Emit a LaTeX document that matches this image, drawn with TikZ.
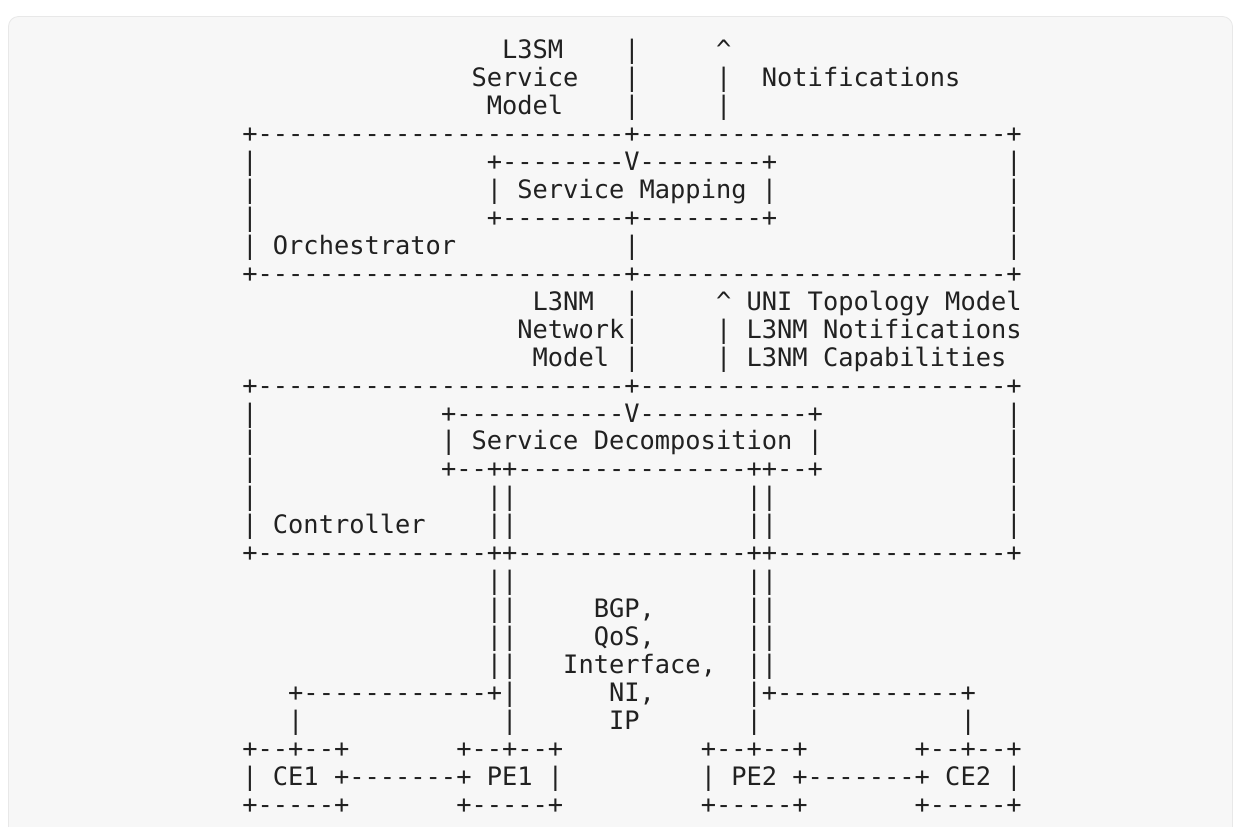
\documentclass[tikz,border=0pt]{standalone}
\usepackage{fontspec}
\setmonofont{DejaVu Sans Mono}
\newcommand\tx[4]{\node[txt] (#1) at ({242.36+15.28*#2},{30.97+27.93*#3}) {#4};}
\begin{document}
\begin{tikzpicture}[x=0.5pt,y=-0.5pt,
  txt/.style={anchor=base west,inner sep=0pt,outer sep=0pt,text=black!87,
    font=\ttfamily\fontsize{12.69pt}{14pt}\selectfont}]
\useasboundingbox (0,0) rectangle (1241,826);
\begin{scope}
\clip (0,0) rectangle (1241,826);
\fill[white] (0,0) rectangle (1241,826);
\draw[draw=black!9,fill=black!3,rounded corners=5] (8.5,16.5) rectangle (1232.5,900);
\end{scope}
% row 1-3
\tx{a1}{17}{1}{L3SM}\tx{a2}{25}{1}{|}\tx{a3}{31}{1}{\textasciicircum}
\tx{b1}{15}{2}{Service}\tx{b2}{25}{2}{|}\tx{b3}{31}{2}{|}\tx{b4}{34}{2}{Notifications}
\tx{c1}{16}{3}{Model}\tx{c2}{25}{3}{|}\tx{c3}{31}{3}{|}
% orchestrator box
\tx{d1}{0}{4}{+------------------------+------------------------+}
\tx{e1}{0}{5}{|}\tx{e2}{16}{5}{+--------V--------+}\tx{e3}{50}{5}{|}
\tx{f1}{0}{6}{|}\tx{f2}{16}{6}{| Service Mapping |}\tx{f3}{50}{6}{|}
\tx{g1}{0}{7}{|}\tx{g2}{16}{7}{+--------+--------+}\tx{g3}{50}{7}{|}
\tx{h1}{0}{8}{|}\tx{h2}{2}{8}{Orchestrator}\tx{h3}{25}{8}{|}\tx{h4}{50}{8}{|}
\tx{i1}{0}{9}{+------------------------+------------------------+}
% L3NM
\tx{j1}{19}{10}{L3NM}\tx{j2}{25}{10}{|}\tx{j3}{31}{10}{\textasciicircum}\tx{j4}{33}{10}{UNI Topology Model}
\tx{k1}{18}{11}{Network|}\tx{k2}{31}{11}{|}\tx{k3}{33}{11}{L3NM Notifications}
\tx{l1}{19}{12}{Model}\tx{l2}{25}{12}{|}\tx{l3}{31}{12}{|}\tx{l4}{33}{12}{L3NM Capabilities}
% controller box
\tx{m1}{0}{13}{+------------------------+------------------------+}
\tx{n1}{0}{14}{|}\tx{n2}{13}{14}{+-----------V-----------+}\tx{n3}{50}{14}{|}
\tx{o1}{0}{15}{|}\tx{o2}{13}{15}{| Service Decomposition |}\tx{o3}{50}{15}{|}
\tx{p1}{0}{16}{|}\tx{p2}{13}{16}{+--++---------------++--+}\tx{p3}{50}{16}{|}
\tx{q1}{0}{17}{|}\tx{q2}{16}{17}{||}\tx{q3}{33}{17}{||}\tx{q4}{50}{17}{|}
\tx{r1}{0}{18}{|}\tx{r2}{2}{18}{Controller}\tx{r3}{16}{18}{||}\tx{r4}{33}{18}{||}\tx{r5}{50}{18}{|}
\tx{s1}{0}{19}{+---------------++---------------++---------------+}
% links
\tx{t1}{16}{20}{||}\tx{t2}{33}{20}{||}
\tx{u1}{16}{21}{||}\tx{u2}{23}{21}{BGP,}\tx{u3}{33}{21}{||}
\tx{v1}{16}{22}{||}\tx{v2}{23}{22}{QoS,}\tx{v3}{33}{22}{||}
\tx{w1}{16}{23}{||}\tx{w2}{21}{23}{Interface,}\tx{w3}{33}{23}{||}
\tx{x1}{3}{24}{+------------+|}\tx{x2}{24}{24}{NI,}\tx{x3}{33}{24}{|+------------+}
\tx{y1}{3}{25}{|}\tx{y2}{17}{25}{|}\tx{y3}{24}{25}{IP}\tx{y4}{33}{25}{|}\tx{y5}{47}{25}{|}
% devices
\tx{z1}{0}{26}{+--+--+}\tx{z2}{14}{26}{+--+--+}\tx{z3}{30}{26}{+--+--+}\tx{z4}{44}{26}{+--+--+}
\tx{za}{0}{27}{| CE1 +-------+ PE1 |}\tx{zb}{30}{27}{| PE2 +-------+ CE2 |}
\tx{zc}{0}{28}{+-----+}\tx{zd}{14}{28}{+-----+}\tx{ze}{30}{28}{+-----+}\tx{zf}{44}{28}{+-----+}
\end{tikzpicture}
\end{document}
